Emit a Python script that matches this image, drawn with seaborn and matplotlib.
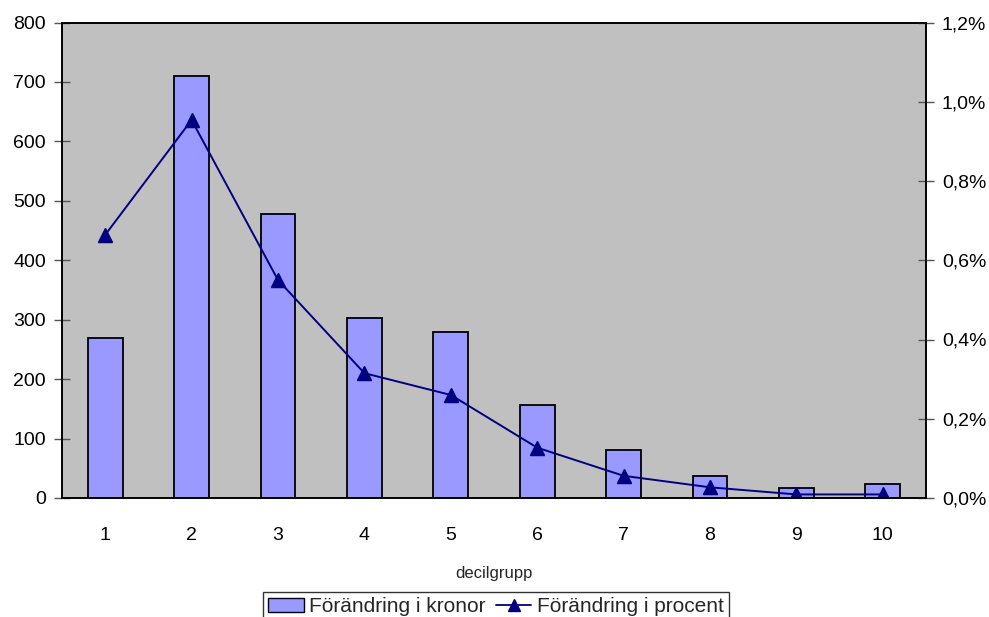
import numpy as np
import pandas as pd
import matplotlib
matplotlib.use("Agg")
import matplotlib.pyplot as plt
import seaborn as sns
from matplotlib.ticker import FuncFormatter, FixedLocator
from matplotlib.lines import Line2D
from matplotlib.patches import Patch

deciles = ["1", "2", "3", "4", "5", "6", "7", "8", "9", "10"]
kronor = [269, 710, 477, 303, 280, 156, 80, 37, 16, 24]
procent = [0.664, 0.954, 0.550, 0.315, 0.260, 0.127, 0.056, 0.027, 0.009, 0.009]
left_ticks = [0, 100, 200, 300, 400, 500, 600, 700, 800]
right_ticks = [0.0, 0.2, 0.4, 0.6, 0.8, 1.0, 1.2]

df = pd.DataFrame({"decil": deciles, "kronor": kronor, "procent": procent})

sns.set_theme(style="white")
plt.rcParams["font.family"] = ["Liberation Sans", "DejaVu Sans"]

fig = plt.figure(figsize=(9.89, 6.17), dpi=100)
ax = fig.add_axes([62 / 989, 1 - 498 / 617, (926 - 62) / 989, (498 - 22.5) / 617])
ax.set_facecolor("#C0C0C0")

sns.barplot(data=df, x="decil", y="kronor", ax=ax, color="#9999FF",
            saturation=1, width=0.405, edgecolor="black", linewidth=1.3)

ax2 = ax.twinx()
sns.pointplot(data=df, x="decil", y="procent", ax=ax2, color="#000080",
              markers="^", markersize=10, linewidth=1.4, errorbar=None)

ax.set_ylim(0, 800)
ax2.set_ylim(0, 1.2)
ax.set_xlim(-0.5, 9.5)
ax2.set_xlim(-0.5, 9.5)

ax.set_yticks(left_ticks)
ax2.set_yticks(right_ticks)
ax2.yaxis.set_major_formatter(FuncFormatter(lambda v, p: f"{v:.1f}%".replace(".", ",")))

ax.xaxis.set_minor_locator(FixedLocator(np.arange(-0.5, 10, 1.0)))
ax.tick_params(axis="x", which="major", length=0, pad=21, labelsize=14, colors="black")
ax.tick_params(axis="x", which="minor", length=11, direction="inout", width=1, color="#555555")
ax.tick_params(axis="y", which="major", length=11, direction="inout", width=1,
               labelsize=14, pad=6, color="#555555", labelcolor="black")
ax2.tick_params(axis="y", which="major", length=11, direction="inout", width=1,
                labelsize=14, pad=6, color="#555555", labelcolor="black")

ax.set_xlabel("decilgrupp", fontsize=12, labelpad=16)
ax.set_ylabel("")
ax2.set_ylabel("")

for a in (ax, ax2):
    for s in a.spines.values():
        s.set_color("black")
        s.set_linewidth(1.2)

handles = [Patch(facecolor="#9999FF", edgecolor="black", linewidth=1),
           Line2D([0], [0], color="#000080", marker="^", markersize=9, linewidth=1.3)]
leg = fig.legend(handles, ["Förändring i kronor", "Förändring i procent"],
                 loc="upper center", bbox_to_anchor=(496 / 989, 1 - 592 / 617), ncol=2,
                 fontsize=15, frameon=True, fancybox=False, shadow=False,
                 borderpad=0.25, handlelength=1.7, handletextpad=0.25, columnspacing=0.5,
                 borderaxespad=0)
leg.get_frame().set_edgecolor("black")
leg.get_frame().set_linewidth(1.0)

fig.savefig("out.png", dpi=100)
